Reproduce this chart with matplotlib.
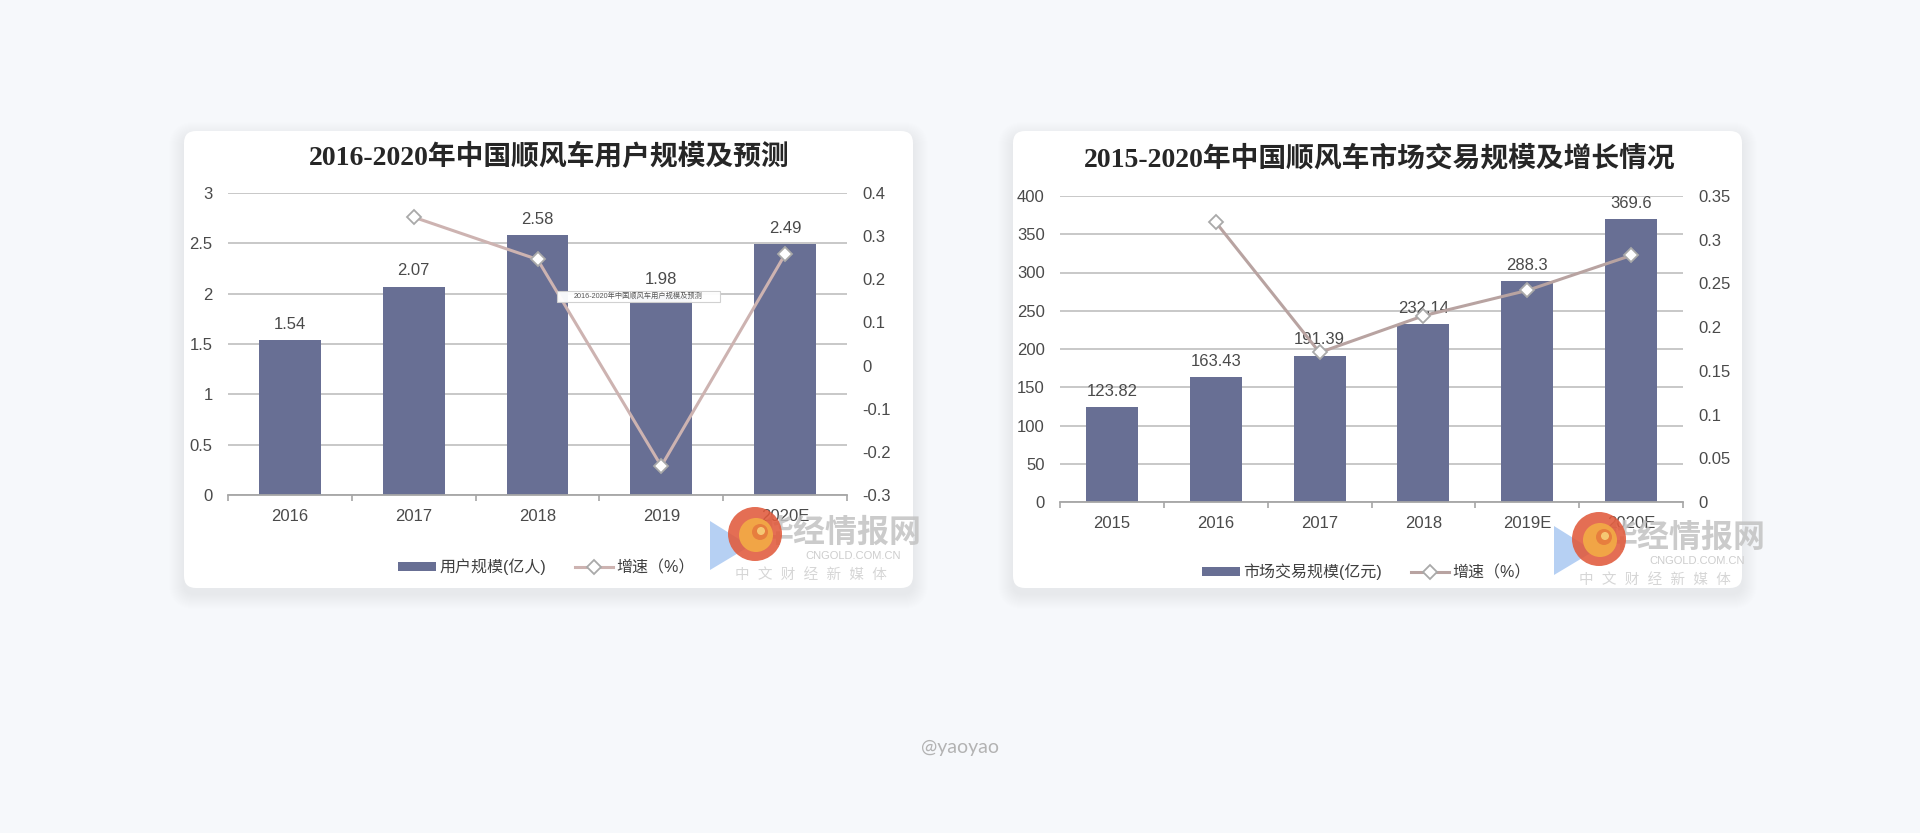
import matplotlib.pyplot as plt
import numpy as np
from matplotlib.patches import FancyBboxPatch, Circle, Polygon, Rectangle

W, H = 1920, 833

# 左图：2016-2020年中国顺风车用户规模及预测
years_left = ["2016", "2017", "2018", "2019", "2020E"]
users = [1.54, 2.07, 2.58, 1.98, 2.49]
users_growth = [np.nan, 0.344, 0.246, -0.233, 0.258]

# 右图：2015-2020年中国顺风车市场交易规模及增长情况
years_right = ["2015", "2016", "2017", "2018", "2019E", "2020E"]
trade = [123.82, 163.43, 191.39, 232.14, 288.3, 369.6]
trade_growth = [np.nan, 0.32, 0.171, 0.213, 0.242, 0.282]

BAR = "#686f94"
GRID = "#c4c4c4"
TXT = "#4a4a4a"

plt.rcParams["font.family"] = ["Liberation Sans", "Noto Sans CJK SC"]

fig = plt.figure(figsize=(W / 100, H / 100), dpi=100)
fig.patch.set_facecolor("#f6f8fb")


def px(x0, y0, x1, y1):
    return [x0 / W, 1 - y1 / H, (x1 - x0) / W, (y1 - y0) / H]


# 背景层：卡片和阴影
bg = fig.add_axes([0, 0, 1, 1], zorder=0)
bg.set_xlim(0, W)
bg.set_ylim(H, 0)
bg.axis("off")

cards = [(184, 131, 913, 588), (1013, 131, 1742, 588)]
for x0, y0, x1, y1 in cards:
    for s in range(1, 16):
        bg.add_patch(FancyBboxPatch((x0 - s, y0 - s + 6), x1 - x0 + 2 * s, y1 - y0 + 2 * s,
                                    boxstyle="round,pad=0,rounding_size=%d" % (12 + s),
                                    fc="#aab3c5", ec="none", alpha=0.012))
    bg.add_patch(FancyBboxPatch((x0, y0), x1 - x0, y1 - y0,
                                boxstyle="round,pad=0,rounding_size=12",
                                fc="white", ec="none"))

fig.text(960 / W, 1 - 748 / H, "@yaoyao", ha="center", va="center",
         fontsize=14, color="#b3b3b3", family=["Lato", "DejaVu Sans"])


def draw_chart(rect, cats, vals, growth, ylim, yticks, ylim2, yticks2,
               title, title_pos, labels, legend_pos, line_color):
    ax = fig.add_axes(px(*rect), zorder=1)
    ax.patch.set_alpha(0)
    x = np.arange(len(cats))
    bars = ax.bar(x, vals, width=0.5, color=BAR, zorder=2)
    ax.bar_label(bars, labels=[f"{v:g}" for v in vals], padding=6,
                 fontsize=12, color=TXT)
    ax.set_xlim(-0.5, len(cats) - 0.5)
    ax.set_ylim(*ylim)
    ax.set_yticks(yticks)
    ax.set_yticklabels([f"{v:g}" for v in yticks])
    ax.set_xticks(x)
    ax.set_xticklabels(cats)
    ax.set_xticks(np.arange(-0.5, len(cats), 1), minor=True)
    ax.tick_params(axis="x", which="major", length=0, pad=10, labelsize=12, labelcolor=TXT)
    ax.tick_params(axis="x", which="minor", length=4, width=1.2, color="#a6a6a6")
    ax.tick_params(axis="y", length=0, pad=11, labelsize=12, labelcolor=TXT)
    ax.yaxis.grid(True, color=GRID, lw=1.3)
    ax.set_axisbelow(True)
    for sp in ["top", "left", "right"]:
        ax.spines[sp].set_visible(False)
    ax.spines["bottom"].set_color("#a6a6a6")
    ax.spines["bottom"].set_linewidth(1.3)

    ax2 = ax.twinx()
    ax2.patch.set_alpha(0)
    line, = ax2.plot(x, growth, color=line_color, lw=2.2, marker="D", ms=7.5,
                     mfc="white", mec="#a9a9a9", mew=1.3, zorder=3)
    ax2.set_ylim(*ylim2)
    ax2.set_yticks(yticks2)
    ax2.set_yticklabels([f"{v:g}" for v in yticks2])
    ax2.tick_params(axis="y", length=0, pad=11, labelsize=12, labelcolor=TXT)
    for sp in ax2.spines.values():
        sp.set_visible(False)

    fig.text(title_pos[0] / W, 1 - title_pos[1] / H, title, ha="center", va="center",
             fontsize=20, fontweight="bold", color="#262626",
             family=["Liberation Serif", "Noto Sans CJK SC"])

    fig.legend([bars, line], labels, loc="center",
               bbox_to_anchor=(legend_pos[0] / W, 1 - legend_pos[1] / H),
               ncol=2, frameon=False, fontsize=11.5, labelcolor="#404040",
               handlelength=2.4, handleheight=0.55, handletextpad=0.2,
               columnspacing=1.8)
    return ax


draw_chart((228, 193, 847, 495), years_left, users, users_growth,
           (0, 3), np.round(np.arange(0, 3.01, 0.5), 2),
           (-0.3, 0.4), np.round(np.arange(-0.3, 0.41, 0.1), 2),
           "2016-2020年中国顺风车用户规模及预测", (549, 157),
           ["用户规模(亿人)", "增速（%）"], (546, 567), "#cdb3b1")

draw_chart((1060, 196, 1683, 502), years_right, trade, trade_growth,
           (0, 400), np.arange(0, 401, 50),
           (0, 0.35), np.round(np.arange(0, 0.351, 0.05), 2),
           "2015-2020年中国顺风车市场交易规模及增长情况", (1380, 159),
           ["市场交易规模(亿元)", "增速（%）"], (1366, 572), "#b8a3a1")

# 顶层：水印和提示框
ov = fig.add_axes([0, 0, 1, 1], zorder=3)
ov.set_xlim(0, W)
ov.set_ylim(H, 0)
ov.axis("off")
ov.patch.set_alpha(0)

# 提示框
ov.add_patch(Rectangle((557, 291), 163, 11, fc="white", ec="#cfcfcf", lw=0.8, alpha=0.95))
ov.text(638, 296.5, "2016-2020年中国顺风车用户规模及预测", ha="center", va="center",
        fontsize=5.2, color="#555555")

for (cx, cy), card in zip([(755, 534), (1599, 539)], cards):
    x0, y0, x1, y1 = card
    clip = FancyBboxPatch((x0, y0), x1 - x0, y1 - y0,
                          boxstyle="round,pad=0,rounding_size=12", fc="none", ec="none")
    ov.add_patch(clip)
    items = [
        ov.text(cx + 6, cy - 1, "华经情报网", ha="left", va="center", fontsize=23,
                fontweight="bold", color="#c2c2c2", alpha=0.85, zorder=1),
        ov.text(cx + 98, cy + 22, "CNGOLD.COM.CN", ha="center", va="center",
                fontsize=8, color="#cdcdcd", zorder=1),
        ov.text(cx - 20, cy + 41, "中  文  财  经  新  媒  体", ha="left", va="center",
                fontsize=10.5, color="#d6d6d6", zorder=1),
    ]
    for t in items:
        t.set_clip_path(clip)
    tri = Polygon([(cx - 45, cy - 13), (cx - 45, cy + 36), (cx - 5, cy + 12)],
                  closed=True, fc="#a9c8f2", ec="none", alpha=0.85, zorder=2)
    ov.add_patch(tri)
    ov.add_patch(Circle((cx, cy), 27, fc="#e15a3c", ec="none", alpha=0.88, zorder=3))
    ov.add_patch(Circle((cx + 1, cy + 1), 17, fc="#f3ac45", ec="none", alpha=0.9, zorder=3))
    ov.add_patch(Circle((cx + 5, cy - 2), 8, fc="#e67a3e", ec="none", alpha=0.9, zorder=3))
    ov.add_patch(Circle((cx + 6, cy - 3), 4, fc="#f7d07a", ec="none", alpha=0.9, zorder=3))

fig.savefig("out.png", dpi=100, facecolor=fig.get_facecolor())
